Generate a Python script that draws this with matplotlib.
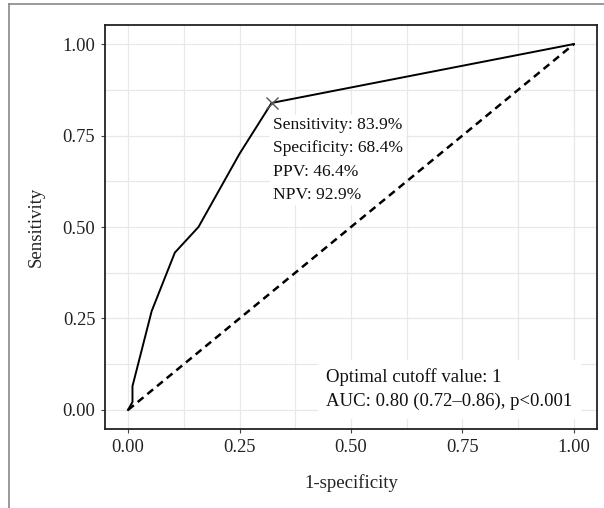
import matplotlib
matplotlib.use('Agg')
import matplotlib.pyplot as plt
from matplotlib.lines import Line2D

# ROC curve
fpr = [0.0, 0.01, 0.01, 0.053, 0.105, 0.158, 0.25, 0.322, 1.0]
tpr = [0.0, 0.022, 0.065, 0.27, 0.43, 0.50, 0.70, 0.839, 1.0]
ref_x = [0.0, 1.0]
ref_y = [0.0, 1.0]
opt_x = 0.322
opt_y = 0.839

ticks = [0.0, 0.25, 0.5, 0.75, 1.0]
tick_labels = ['0.00', '0.25', '0.50', '0.75', '1.00']
minor_ticks = [0.125, 0.375, 0.625, 0.875]

opt_text = 'Sensitivity: 83.9%\nSpecificity: 68.4%\nPPV: 46.4%\nNPV: 92.9%'
auc_text = 'Optimal cutoff value: 1\nAUC: 0.80 (0.72\u20130.86), p<0.001'

plt.rcParams['font.family'] = ['Liberation Serif', 'DejaVu Serif']

fig = plt.figure(figsize=(6.04, 5.08), dpi=100)
ax = fig.add_axes([105 / 604, 79 / 508, 492 / 604, 404 / 508])

# grid
ax.set_xticks(ticks)
ax.set_yticks(ticks)
ax.set_xticks(minor_ticks, minor=True)
ax.set_yticks(minor_ticks, minor=True)
ax.grid(True, which='both', color='#e8e8e8', linewidth=0.9)
ax.set_axisbelow(True)
ax.tick_params(which='minor', length=0)
ax.tick_params(which='major', length=3, color='#444444', width=0.8,
               labelsize=13.3, labelcolor='#222222', pad=4)
ax.set_xticklabels(tick_labels)
ax.set_yticklabels(tick_labels)

ax.plot(ref_x, ref_y, color='black', linestyle=(0, (3, 2)), linewidth=1.8, zorder=3)
ax.plot(fpr, tpr, color='black', linewidth=1.4, zorder=3)
ax.plot([opt_x], [opt_y], marker='x', color='#555555', markersize=9,
        markeredgewidth=1.0, zorder=4)

# label backgrounds only cover the grid, not the curves
ax.text(0.325, 0.683, opt_text, fontsize=12.6, ha='left', va='center',
        linespacing=1.6, color='#111111', zorder=1.5,
        bbox=dict(facecolor='white', edgecolor='none', boxstyle='square,pad=0.15'))
ax.text(0.444, 0.056, auc_text, fontsize=13.5, ha='left', va='center',
        linespacing=1.5, color='#111111', zorder=1.5,
        bbox=dict(facecolor='white', edgecolor='none', boxstyle='square,pad=0.45'))

ax.set_xlim(-0.0516, 1.0516)
ax.set_ylim(-0.052, 1.052)
for s in ax.spines.values():
    s.set_color('#222222')
    s.set_linewidth(1.3)

ax.set_xlabel('1-specificity', fontsize=13.5, color='#222222', labelpad=13)
ax.set_ylabel('Sensitivity', fontsize=13.5, color='#222222', labelpad=13)

# outer frame lines (cropped figure border)
fig.add_artist(Line2D([9 / 604, 1.0], [1 - 4 / 508, 1 - 4 / 508],
                      transform=fig.transFigure, color='#888888', linewidth=1.2))
fig.add_artist(Line2D([9 / 604, 9 / 604], [0.0, 1 - 4 / 508],
                      transform=fig.transFigure, color='#888888', linewidth=1.2))

fig.savefig('out.png', dpi=100)
